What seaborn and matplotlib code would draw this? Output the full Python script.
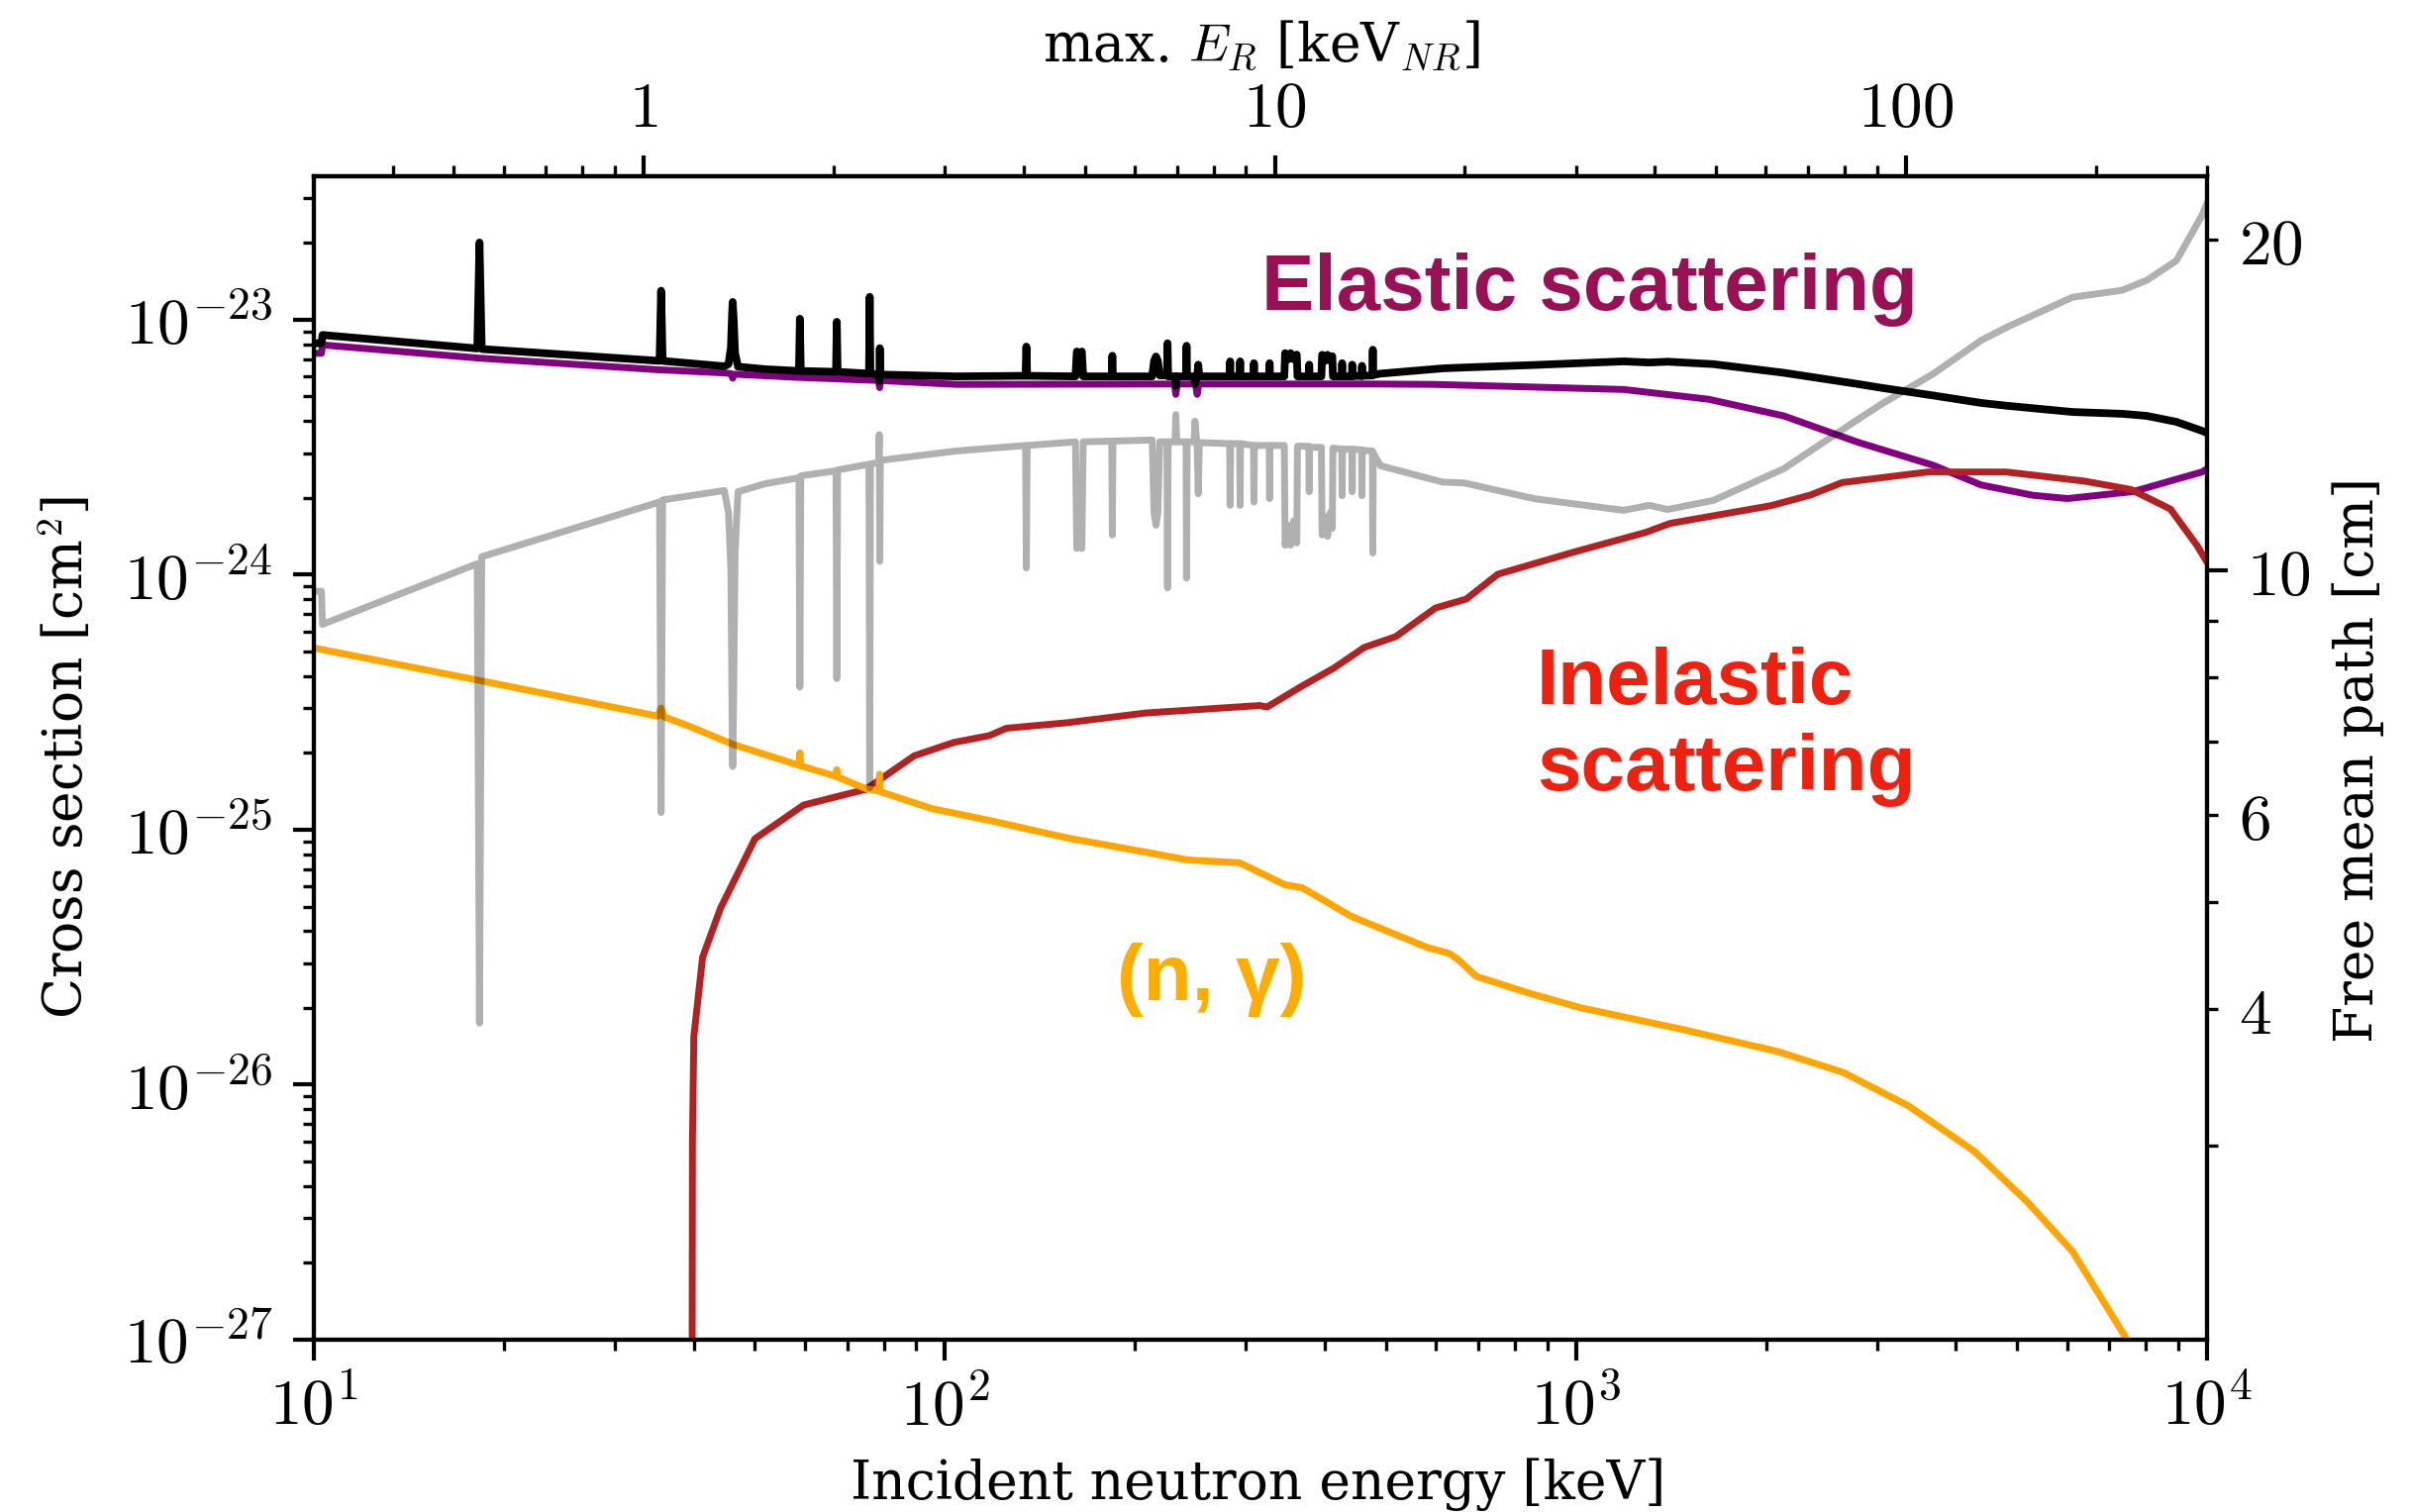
import numpy as np
import pandas as pd
import matplotlib
matplotlib.use("Agg")
import matplotlib.pyplot as plt
import seaborn as sns
from matplotlib.ticker import FixedLocator, LogLocator, FuncFormatter, NullFormatter

# ---------------- data (energies in keV, cross sections in barn = 1e-24 cm^2) ----------------
total_E = [10.0, 10.28, 10.32, 18.15, 18.3, 18.45, 35.3, 35.5, 35.7,
           44.7, 45.4, 45.8, 46.0, 46.1, 46.25, 46.5, 47.0, 51.9,
           58.7, 58.9, 59.1, 67.2, 67.4, 67.6, 75.8, 76.0, 76.2,
           78.5, 78.7, 78.85, 79.0, 104.0, 134.2, 134.6, 135.0,
           161.0, 161.8, 163.3, 164.8, 165.6, 183.8, 184.2, 184.6,
           213.0, 214.5, 216.0, 217.5, 219.0, 224.8, 225.3, 225.8,
           231.5, 232.2, 233.0, 241.0, 241.5, 242.0,
           248.3, 249.0, 251.0, 252.0, 253.0, 282.6, 283.1, 283.6,
           293.1, 293.6, 294.1, 308.3, 308.8, 309.3, 326.5, 327.0, 327.5,
           345.0, 346.0, 350.0, 353.0, 357.0, 361.0, 362.0, 377.2, 377.8, 378.4,
           395.0, 396.0, 400.0, 404.0, 408.0, 411.0, 412.0, 425.4, 426.0, 426.6,
           441.4, 442.0, 442.6, 457.4, 458.0, 458.6, 475.8, 476.5, 477.2,
           490.0, 615.0, 665.0, 859.0, 1189.0, 1306.0, 1397.0, 1652.0, 2133.0,
           2797.0, 3063.0, 3680.0, 4387.0, 4825.0, 6120.0, 7333.0, 8024.0,
           8941.0, 9815.0, 10000.0]
total_b = [8.09, 8.09, 8.72, 7.72, 20.1, 7.68, 6.9, 13.0, 6.9,
           6.57, 6.7, 7.8, 10.6, 11.75, 10.2, 7.4, 6.55, 6.40,
           6.3, 10.1, 6.3, 6.25, 9.82, 6.25, 6.15, 12.3, 6.15,
           6.1, 5.75, 7.74, 6.1, 6.0, 6.03, 7.85, 6.03,
           6.0, 7.51, 7.4, 7.51, 6.0, 6.0, 7.23, 6.0,
           6.0, 6.9, 7.18, 6.9, 6.05, 6.05, 8.09, 6.0,
           6.0, 5.5, 6.0, 6.0, 7.91, 6.0,
           6.0, 5.6, 6.0, 6.67, 6.0, 6.0, 6.87, 6.0,
           6.0, 6.87, 6.0, 6.0, 6.76, 6.0, 6.0, 6.76, 6.0,
           6.0, 7.4, 7.0, 7.4, 7.0, 7.3, 6.0, 6.0, 6.67, 6.0,
           6.0, 7.29, 6.9, 7.29, 6.9, 7.2, 6.0, 6.0, 6.76, 6.0,
           6.0, 6.67, 6.02, 6.02, 6.6, 6.03, 6.05, 7.63, 6.08,
           6.15, 6.45, 6.5, 6.65, 6.87, 6.8, 6.85, 6.7, 6.2,
           5.6, 5.4, 5.05, 4.72, 4.6, 4.35, 4.28, 4.2,
           3.98, 3.67, 3.6]
# free mean path (right axis), same energy grid as total
mfp_cm = [9.58, 9.58, 8.94, 10.15, 3.88, 10.3, 11.55, 6.03, 11.6,
          11.83, 11.3, 10.0, 7.3, 6.64, 7.6, 10.4, 11.8, 12.0,
          12.15, 7.84, 12.2, 12.33, 7.98, 12.35, 12.5, 6.35, 12.5,
          12.55, 13.3, 10.2, 12.6, 12.85, 13.0, 10.06, 13.0,
          13.1, 10.48, 10.55, 10.48, 13.1, 13.12, 10.78, 13.12,
          13.15, 11.3, 11.0, 11.3, 13.1, 13.1, 9.65, 13.1,
          13.1, 13.87, 13.1, 13.1, 9.85, 13.1,
          13.1, 13.68, 13.0, 11.75, 13.08, 13.05, 11.47, 13.05,
          13.05, 11.47, 13.05, 13.0, 11.55, 13.0, 13.0, 11.63, 13.0,
          13.0, 10.55, 11.0, 10.55, 11.1, 10.6, 12.98, 12.98, 11.8, 12.95,
          12.95, 10.78, 11.2, 10.75, 11.3, 10.93, 12.93, 12.9, 11.7, 12.9,
          12.9, 11.8, 12.9, 12.88, 11.7, 12.87, 12.85, 10.38, 12.8,
          12.46, 12.04, 12.02, 11.63, 11.35, 11.47, 11.37, 11.59, 12.38,
          13.73, 14.2, 15.1, 16.2, 16.66, 17.73, 17.99, 18.37,
          19.14, 21.04, 21.6]

elastic_E = [10.0, 10.28, 10.32, 18.2, 35.1, 44.7, 45.8, 46.1, 46.4, 58.0,
             78.5, 78.8, 79.1, 104.4, 231.0, 232.2, 233.5, 249.5, 251.0, 252.5,
             480.0, 597.0, 1189.0, 1622.0, 2133.0, 2797.0, 3680.0, 4387.0,
             5299.0, 6012.0, 7640.0, 9815.0, 10000.0]
elastic_b = [7.39, 7.39, 7.97, 7.08, 6.37, 6.19, 6.15, 5.9, 6.12, 5.95,
             5.78, 5.42, 5.78, 5.58, 5.6, 5.1, 5.6, 5.6, 5.1, 5.6,
             5.6, 5.58, 5.33, 4.88, 4.20, 3.31, 2.69, 2.25,
             2.05, 1.99, 2.12, 2.53, 2.6]

inelastic_E = [39.6, 39.8, 40.0, 41.3, 44.1, 50.0, 59.7, 74.9, 89.4, 103.3,
               117.6, 125.1, 156.5, 208.0, 315.0, 324.0, 368.0, 413.0, 462.0,
               518.0, 599.0, 670.0, 752.0, 1000.0, 1292.0, 1409.0, 2036.0,
               2352.0, 2641.0, 3614.0, 4807.0, 6391.0, 7574.0, 8750.0, 9646.0, 10000.0]
inelastic_b = [1e-6, 0.006, 0.0154, 0.0316, 0.0493, 0.0922, 0.125, 0.144, 0.195, 0.220,
               0.234, 0.25, 0.263, 0.287, 0.307, 0.303, 0.366, 0.430, 0.519,
               0.572, 0.741, 0.803, 1.005, 1.234, 1.468, 1.59, 1.866,
               2.054, 2.30, 2.53, 2.53, 2.33, 2.16, 1.81, 1.3, 1.12]

capture_E = [10.0, 10.1, 18.1, 35.1, 35.5, 35.9, 39.3, 46.2, 58.7, 58.9, 59.1,
             67.2, 67.4, 67.6, 74.9, 78.6, 78.8, 79.0, 95.4, 117.6, 156.5,
             208.0, 242.0, 293.0, 300.6, 346.0, 368.0, 440.0, 582.0, 630.0,
             650.0, 695.0, 841.0, 1018.0, 1455.0, 2088.0, 2650.0, 3362.0,
             4282.0, 5184.0, 6120.0, 7413.0, 8500.0, 10000.0]
capture_b = [0.518, 0.514, 0.387, 0.279, 0.30, 0.277, 0.255, 0.216, 0.179, 0.20, 0.178,
             0.162, 0.172, 0.161, 0.145, 0.142, 0.165, 0.141, 0.121, 0.1088, 0.0928,
             0.0817, 0.0762, 0.0742, 0.072, 0.0608, 0.0593, 0.0458, 0.0345, 0.0327,
             0.031, 0.0266, 0.0229, 0.02003, 0.0166, 0.0135, 0.01118, 0.00827,
             0.00547, 0.00348, 0.00222, 0.00103, 0.0005, 0.0002]

bottom_ticks = [10, 100, 1000, 10000]
top_ticks = [1, 10, 100]
right_major = [10]
right_minor = [3, 4, 5, 6, 7, 8, 9, 20]
right_labeled = [4, 6, 10, 20]
A_XE = 131.293
BARN_CM2 = 1e-24

# ---------------- style ----------------
sns.set_theme(style="ticks")
plt.rcParams["font.family"] = ["DejaVu Serif"]
plt.rcParams["mathtext.fontset"] = "cm"
plt.rcParams["axes.edgecolor"] = "black"
plt.rcParams["axes.linewidth"] = 1.5
plt.rcParams["xtick.color"] = "black"
plt.rcParams["ytick.color"] = "black"
plt.rcParams["text.color"] = "black"
plt.rcParams["axes.labelcolor"] = "black"
plt.rcParams["axes.facecolor"] = "white"
plt.rcParams["figure.facecolor"] = "white"

TICK_FS = 23.5
LABEL_FS = 19.3
ANNOT_FS = 28.8
LW = 2.5

fig = plt.figure(figsize=(12.17, 7.635), dpi=200)
ax = fig.add_axes([0.13024, 0.11395, 0.78554, 0.76948])

df_el = pd.DataFrame({"E": elastic_E, "xs": np.array(elastic_b) * BARN_CM2})
df_tot = pd.DataFrame({"E": total_E, "xs": np.array(total_b) * BARN_CM2})
df_in = pd.DataFrame({"E": inelastic_E, "xs": np.array(inelastic_b) * BARN_CM2})
df_cap = pd.DataFrame({"E": capture_E, "xs": np.array(capture_b) * BARN_CM2})
df_mfp = pd.DataFrame({"E": total_E, "L": mfp_cm})

sns.lineplot(data=df_el, x="E", y="xs", ax=ax, color="#800080", linewidth=LW,
             estimator=None, sort=False, zorder=2)
sns.lineplot(data=df_tot, x="E", y="xs", ax=ax, color="black", linewidth=2.8,
             estimator=None, sort=False, zorder=3)
sns.lineplot(data=df_in, x="E", y="xs", ax=ax, color="#B22222", linewidth=LW,
             estimator=None, sort=False, zorder=4)
sns.lineplot(data=df_cap, x="E", y="xs", ax=ax, color="#FFA500", linewidth=LW,
             estimator=None, sort=False, zorder=5)

ax.set_xscale("log")
ax.set_yscale("log")
ax.set_xlim(10, 1e4)
ax.set_ylim(1e-27, 10 ** -22.437)

ax.xaxis.set_major_locator(FixedLocator(bottom_ticks))
ax.xaxis.set_major_formatter(FuncFormatter(lambda v, p: "$10^{%d}$" % int(round(np.log10(v)))))
ax.xaxis.set_minor_locator(LogLocator(base=10, subs=np.arange(2, 10), numticks=50))
ax.xaxis.set_minor_formatter(NullFormatter())
ax.yaxis.set_major_locator(LogLocator(base=10, numticks=20))
ax.yaxis.set_major_formatter(FuncFormatter(lambda v, p: "$10^{%d}$" % int(round(np.log10(v)))))
ax.yaxis.set_minor_locator(LogLocator(base=10, subs=np.arange(2, 10), numticks=50))
ax.yaxis.set_minor_formatter(NullFormatter())
ax.xaxis.set_ticks_position("bottom")
ax.yaxis.set_ticks_position("left")
ax.tick_params(which="major", length=7.5, width=1.5, labelsize=TICK_FS, color="black")
ax.tick_params(which="minor", length=4, width=1.2, color="black")
ax.tick_params(axis="x", which="major", pad=5.5)
ax.tick_params(axis="y", which="major", pad=7.5)

# right axis: free mean path
ax2 = ax.twinx()
sns.lineplot(data=df_mfp, x="E", y="L", ax=ax2, color="black", alpha=0.31,
             linewidth=LW, estimator=None, sort=False)
ax2.set_yscale("log")
ax2.set_ylim(2.0, 22.84)
ax2.set_xlim(10, 1e4)
ax2.yaxis.set_major_locator(FixedLocator(right_major))
ax2.yaxis.set_minor_locator(FixedLocator(right_minor))
ax2.yaxis.set_major_formatter(FuncFormatter(lambda v, p: "$%g$" % v))
ax2.yaxis.set_minor_formatter(FuncFormatter(
    lambda v, p: ("$%g$" % v) if any(abs(v - t) < 1e-6 for t in right_labeled) else ""))
ax2.tick_params(axis="y", which="major", length=7.5, width=1.5, labelsize=TICK_FS, pad=7)
ax2.tick_params(axis="y", which="minor", length=4, width=1.2, labelsize=TICK_FS, pad=7.5)
ax2.set_xlabel("")
ax2.xaxis.set_visible(False)
for sp in ax2.spines.values():
    sp.set_linewidth(1.5)
    sp.set_color("black")

# top axis: maximum nuclear recoil energy
kfac = 4 * A_XE / (1 + A_XE) ** 2
secax = ax.secondary_xaxis("top", functions=(lambda e: e * kfac, lambda r: r / kfac))
secax.xaxis.set_major_locator(FixedLocator(top_ticks))
secax.xaxis.set_major_formatter(FuncFormatter(lambda v, p: "$%g$" % v))
secax.xaxis.set_minor_locator(LogLocator(base=10, subs=np.arange(2, 10), numticks=50))
secax.xaxis.set_minor_formatter(NullFormatter())
secax.tick_params(which="major", length=7.5, width=1.5, labelsize=TICK_FS, pad=5.5)
secax.tick_params(which="minor", length=4, width=1.2)
secax.yaxis.set_visible(False)
for sp in secax.spines.values():
    sp.set_linewidth(1.5)

# labels
ax.set_xlabel("Incident neutron energy [keV]", fontsize=LABEL_FS)
ax.xaxis.set_label_coords(0.499, -0.1013)
ax.set_ylabel("Cross section [cm$^2$]", fontsize=LABEL_FS)
ax.yaxis.set_label_coords(-0.1161, 0.5004)
ax2.set_ylabel("Free mean path [cm]", fontsize=LABEL_FS, rotation=90)
ax2.yaxis.set_label_coords(1.0659, 0.4987)
secax.set_xlabel("max. $E_R$ [keV$_{NR}$]", fontsize=LABEL_FS)
secax.xaxis.set_label_coords(0.5005, 1.1, transform=ax.transAxes)

# annotations
annot = dict(fontfamily="Liberation Sans", fontweight="bold", fontsize=ANNOT_FS,
             ha="left", va="baseline", transform=ax.transAxes)
ax.text(0.5005, 0.8851, "Elastic scattering", color="#9A1054", **annot)
ax.text(0.6459, 0.5466, "Inelastic", color="#EE2010", **annot)
ax.text(0.6459, 0.4723, "scattering", color="#EE2010", **annot)
ax.text(0.4242, 0.2919, "(n, γ)", color="#FFAD00", **annot)

fig.savefig("out.png", dpi=200)
